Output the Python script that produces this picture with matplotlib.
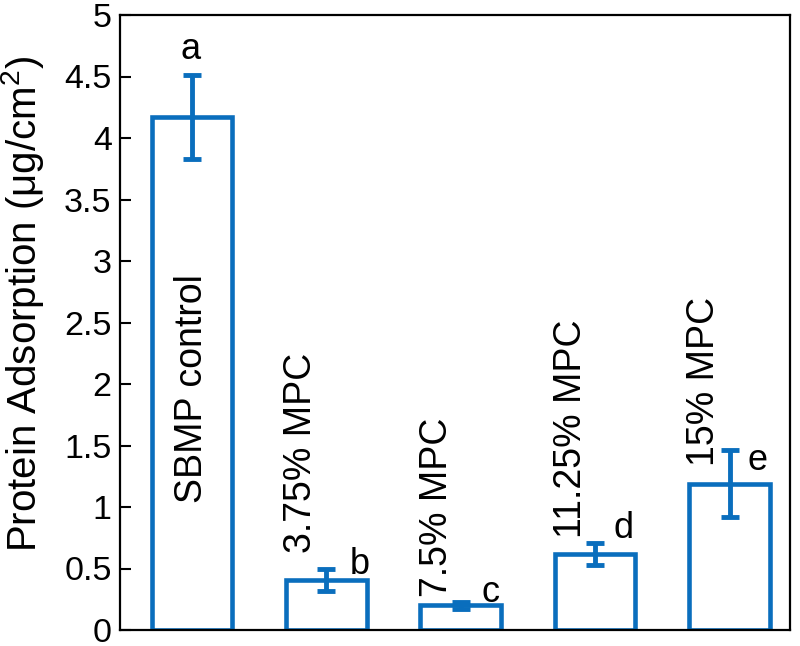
import matplotlib
matplotlib.use("Agg")
import matplotlib.pyplot as plt
import numpy as np

plt.rcParams['font.family'] = ['Liberation Sans', 'DejaVu Sans']
plt.rcParams['mathtext.fontset'] = 'custom'
plt.rcParams['mathtext.rm'] = 'Liberation Sans'
plt.rcParams['mathtext.it'] = 'Liberation Sans'
plt.rcParams['mathtext.default'] = 'rm'

# ---- data ----
categories = ['SBMP control', '3.75% MPC', '7.5% MPC', '11.25% MPC', '15% MPC']
values = [4.17, 0.41, 0.20, 0.62, 1.19]
errors = [0.34, 0.09, 0.03, 0.09, 0.27]
letters = ['a', 'b', 'c', 'd', 'e']
yticks = [0, 0.5, 1, 1.5, 2, 2.5, 3, 3.5, 4, 4.5, 5]
ytick_labels = ['0', '0.5', '1', '1.5', '2', '2.5', '3', '3.5', '4', '4.5', '5']

# ---- label placement (layout, not data) ----
name_dx = [0.0, -0.19, -0.18, -0.18, -0.19]
name_y = [1.03, 0.63, 0.27, 0.75, 1.33]
letter_dx = [-0.01, 0.25, 0.22, 0.21, 0.21]
letter_y = [4.64, 0.455, 0.23, 0.75, 1.30]

blue = '#0A6EBD'

fig = plt.figure(figsize=(8, 6.46), dpi=100)
ax = fig.add_axes([120/800, 1 - 630/646, (790 - 120)/800, (630 - 15)/646])

x = np.arange(len(categories))
ax.bar(x, values, width=0.6, facecolor='white', edgecolor=blue, linewidth=3.3, zorder=2)
ax.errorbar(x, values, yerr=errors, fmt='none', ecolor=blue, elinewidth=3.5,
            capsize=6.5, capthick=3.5, zorder=3)

for i in range(len(categories)):
    ax.text(x[i] + name_dx[i], name_y[i], categories[i], rotation=90,
            ha='center', va='bottom', fontsize=27, zorder=4)
    ax.text(x[i] + letter_dx[i], letter_y[i], letters[i],
            ha='center', va='baseline', fontsize=26, zorder=4)

ax.set_xlim(-0.535, 4.45)
ax.set_ylim(0, 5)
ax.set_yticks(yticks)
ax.set_yticklabels(ytick_labels, fontsize=24.5)
ax.set_xticks([])
ax.tick_params(axis='y', direction='in', length=8, width=1.5, pad=6)
for s in ax.spines.values():
    s.set_linewidth(1.6)
ax.set_ylabel('Protein Adsorption (μg/cm$^{2}$)', fontsize=29)
ax.yaxis.set_label_coords(-0.11, 0.53)

fig.savefig('out.png', dpi=100)
